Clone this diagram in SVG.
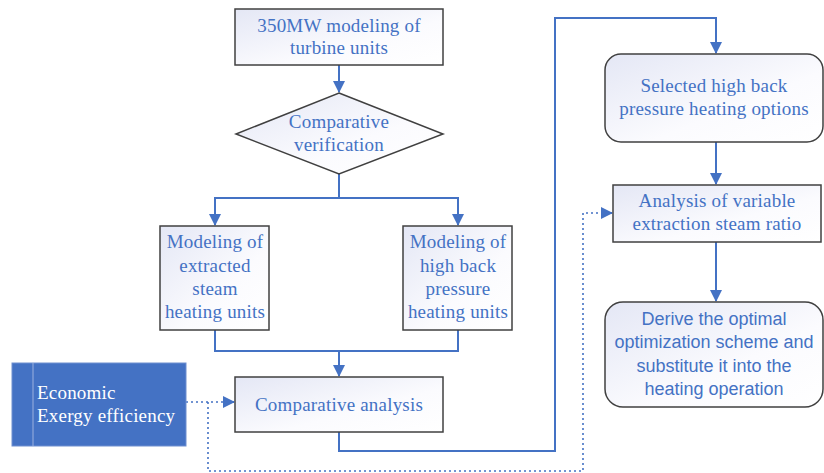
<svg xmlns="http://www.w3.org/2000/svg" width="824" height="473" viewBox="0 0 824 473">
<defs>
<linearGradient id="g" x1="0" y1="0" x2="1" y2="1">
<stop offset="0" stop-color="#e4e7f5"/>
<stop offset="0.6" stop-color="#fbfbfe"/>
<stop offset="1" stop-color="#ffffff"/>
</linearGradient>
<marker id="ah" viewBox="0 0 12 12" refX="11" refY="6" markerWidth="12" markerHeight="12" markerUnits="userSpaceOnUse" orient="auto">
<path d="M0,0 L12,6 L0,12 Z" fill="#4472c4"/>
</marker>
</defs>
<style>
.box{fill:url(#g);stroke:#404040;stroke-width:1.5}
.t{font-family:"Liberation Serif","Times New Roman",serif;font-size:19px;fill:#4472c4;text-anchor:middle;letter-spacing:0.2px}
.s{font-family:"Liberation Sans",Arial,sans-serif;font-size:18px;fill:#4472c4;text-anchor:middle}
.c{fill:none;stroke:#4472c4;stroke-width:2}
.d{fill:none;stroke:#4472c4;stroke-width:1.6;stroke-dasharray:2 3}
</style>
<rect width="824" height="473" fill="#ffffff"/>
<g id="connectors">
<path class="c" d="M339,65 V92" marker-end="url(#ah)"/>
<path class="c" d="M339,174 V198 H215 V225" marker-end="url(#ah)"/>
<path class="c" d="M339,198 H458 V225" marker-end="url(#ah)"/>
<path class="c" d="M215,330 V351 H458 V330"/>
<path class="c" d="M339,351 V376" marker-end="url(#ah)"/>
<path class="c" d="M339,432 V451 H555 V18 H716 V53" marker-end="url(#ah)"/>
<path class="c" d="M716,142 V184" marker-end="url(#ah)"/>
<path class="c" d="M716,242 V301" marker-end="url(#ah)"/>
<path class="d" d="M186,402 H228"/>
<path class="c" d="M226,402 H234" marker-end="url(#ah)"/>
<path class="d" d="M208,402 V471 H583 V213 H604"/>
<path class="c" d="M602,213 H612" marker-end="url(#ah)"/>
</g>
<g id="n1">
<rect class="box" x="235" y="9" width="208" height="56"/>
<text class="t" x="339" y="32">350MW modeling of</text>
<text class="t" x="339" y="54">turbine units</text>
</g>
<g id="n2">
<polygon class="box" points="339,93 443,134 339,174 236,134"/>
<text class="t" x="339" y="128">Comparative</text>
<text class="t" x="339" y="151">verification</text>
</g>
<g id="n3">
<rect class="box" x="160" y="226" width="109" height="104"/>
<text class="t" x="215" y="248">Modeling of</text>
<text class="t" x="215" y="272">extracted</text>
<text class="t" x="215" y="295">steam</text>
<text class="t" x="215" y="318">heating units</text>
</g>
<g id="n4">
<rect class="box" x="403" y="226" width="109" height="104"/>
<text class="t" x="458" y="248">Modeling of</text>
<text class="t" x="458" y="272">high back</text>
<text class="t" x="458" y="295">pressure</text>
<text class="t" x="458" y="318">heating units</text>
</g>
<g id="n5">
<rect class="box" x="235" y="377" width="208" height="55"/>
<text class="t" x="339" y="411">Comparative analysis</text>
</g>
<g id="n6">
<rect x="12" y="363" width="174" height="83" fill="#4472c4" stroke="#6e8fd0" stroke-width="1"/>
<line x1="33" y1="363" x2="33" y2="446" stroke="#9bb0de" stroke-width="1"/>
<text x="37" y="399" style="font-family:'Liberation Serif','Times New Roman',serif;font-size:19px;fill:#ffffff;letter-spacing:0.2px">Economic</text>
<text x="37" y="422" style="font-family:'Liberation Serif','Times New Roman',serif;font-size:19px;fill:#ffffff;letter-spacing:0.2px">Exergy efficiency</text>
</g>
<g id="n7">
<rect class="box" x="605" y="54" width="218" height="88" rx="16" ry="16"/>
<text class="t" x="714" y="92">Selected high back</text>
<text class="t" x="714" y="115">pressure heating options</text>
</g>
<g id="n8">
<rect class="box" x="613" y="185" width="208" height="57"/>
<text class="t" x="717" y="207">Analysis of variable</text>
<text class="t" x="717" y="230">extraction steam ratio</text>
</g>
<g id="n9">
<rect class="box" x="605" y="302" width="218" height="105" rx="18" ry="18"/>
<text class="s" x="714" y="325">Derive the optimal</text>
<text class="s" x="714" y="348">optimization scheme and</text>
<text class="s" x="714" y="372">substitute it into the</text>
<text class="s" x="714" y="395">heating operation</text>
</g>
</svg>
